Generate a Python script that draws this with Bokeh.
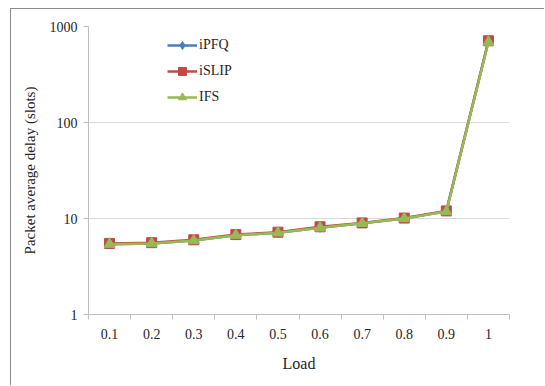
from bokeh.plotting import figure
from bokeh.models import FixedTicker, Legend, LegendItem, Range1d, PrintfTickFormatter
from bokeh.embed import file_html
from bokeh.resources import INLINE

loads = ["0.1", "0.2", "0.3", "0.4", "0.5", "0.6", "0.7", "0.8", "0.9", "1"]
ipfq = [5.4, 5.5, 5.9, 6.7, 7.1, 8.0, 8.9, 10.0, 11.9, 700]
islip = [5.5, 5.6, 6.0, 6.8, 7.2, 8.2, 9.0, 10.1, 12.0, 710]
ifs = [5.4, 5.5, 5.9, 6.7, 7.1, 8.0, 8.9, 10.0, 11.8, 690]
yticks = [1, 10, 100, 1000]

xpos = [i + 0.5 for i in range(len(loads))]
bounds = list(range(len(loads) + 1))

FONT = "Liberation Serif"
TXT = "#262626"

p = figure(width=534, height=377, x_range=Range1d(0, len(loads)), y_range=Range1d(1, 1000),
           y_axis_type="log", output_backend="svg", toolbar_location=None,
           min_border_left=77, min_border_right=36, min_border_top=17, min_border_bottom=72)
p.margin = (8, 0, 0, 10)
p.styles = {"border-left": "1px solid #8c8c8c", "border-top": "1px solid #8c8c8c"}
p.outline_line_color = None
p.background_fill_color = "white"

# x axis
xa = p.xaxis[0]
xa.ticker = FixedTicker(ticks=xpos, minor_ticks=bounds)
xa.major_label_overrides = {x: lab for x, lab in zip(xpos, loads)}
xa.major_tick_line_color = None
xa.minor_tick_line_color = "#bfbfbf"
xa.minor_tick_out = 5
xa.minor_tick_in = 0
xa.axis_line_color = "#bfbfbf"
xa.major_label_standoff = 8
xa.major_label_text_font = FONT
xa.major_label_text_font_size = "14px"
xa.major_label_text_color = TXT
xa.axis_label = "Load"
xa.axis_label_text_font = FONT
xa.axis_label_text_font_size = "16px"
xa.axis_label_text_font_style = "normal"
xa.axis_label_text_color = TXT
xa.axis_label_standoff = 13

# y axis
ya = p.yaxis[0]
ya.ticker = FixedTicker(ticks=yticks, minor_ticks=[])
ya.formatter = PrintfTickFormatter(format="%d")
ya.major_tick_line_color = "#bfbfbf"
ya.major_tick_out = 5
ya.major_tick_in = 0
ya.axis_line_color = "#bfbfbf"
ya.major_label_standoff = 6
ya.major_label_text_font = FONT
ya.major_label_text_font_size = "14px"
ya.major_label_text_color = TXT
ya.axis_label = "Packet average delay (slots)"
ya.axis_label_text_font = FONT
ya.axis_label_text_font_size = "15px"
ya.axis_label_text_font_style = "normal"
ya.axis_label_text_color = TXT
ya.axis_label_standoff = 9

p.xgrid.grid_line_color = None
p.ygrid.grid_line_color = "#d9d9d9"
p.ygrid.grid_line_width = 1

BLUE = "#4A7EBB"
RED = "#BE4B48"
GREEN = "#98B954"

l1 = p.line(xpos, ipfq, line_color=BLUE, line_width=2.5)
m1 = p.scatter(xpos, ipfq, marker="diamond", size=9, fill_color=BLUE, line_color=BLUE)
l2 = p.line(xpos, islip, line_color=RED, line_width=2.5)
m2 = p.scatter(xpos, islip, marker="square", size=10, fill_color=RED, line_color=RED)
l3 = p.line(xpos, ifs, line_color=GREEN, line_width=2.5)
m3 = p.scatter(xpos, ifs, marker="triangle", size=11, fill_color=GREEN, line_color=GREEN)

legend = Legend(items=[LegendItem(label="iPFQ", renderers=[l1, m1]),
                       LegendItem(label="iSLIP", renderers=[l2, m2]),
                       LegendItem(label="IFS", renderers=[l3, m3])],
                location=(79, 207), orientation="vertical",
                glyph_width=30, glyph_height=20, spacing=6, padding=0, margin=0,
                label_standoff=2, label_text_font=FONT, label_text_font_size="14px",
                label_text_color=TXT, border_line_color=None, background_fill_alpha=0)
p.add_layout(legend)

open("out.html", "w").write(file_html(p, INLINE))
